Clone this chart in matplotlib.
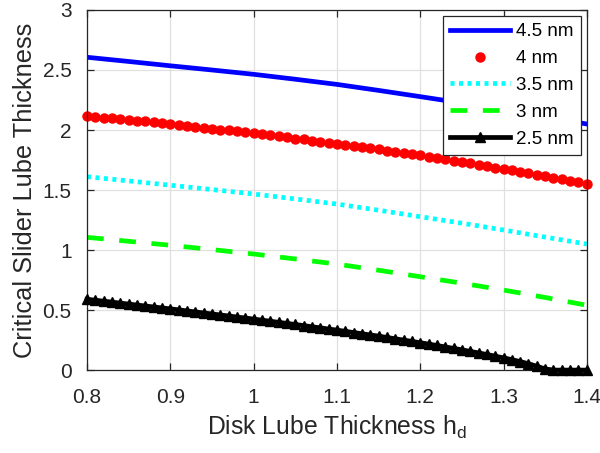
import numpy as np
import matplotlib
matplotlib.use("Agg")
import matplotlib.pyplot as plt

plt.rcParams['font.family'] = ['Liberation Sans', 'DejaVu Sans']

# disk lube thickness, coarse grid for the plain lines
x_coarse = [0.80, 0.85, 0.90, 0.95, 1.00, 1.05, 1.10, 1.15, 1.20, 1.25, 1.30, 1.35, 1.40]
h45 = [2.606, 2.571, 2.535, 2.500, 2.464, 2.423, 2.380, 2.330, 2.278, 2.225, 2.170, 2.110, 2.050]
h35 = [1.611, 1.576, 1.540, 1.504, 1.467, 1.426, 1.383, 1.332, 1.278, 1.224, 1.167, 1.108, 1.050]
h30 = [1.106, 1.073, 1.040, 1.004, 0.967, 0.926, 0.883, 0.832, 0.778, 0.724, 0.667, 0.605, 0.540]

# fine grid (step 0.01) for the marker series
x_fine = np.round(np.arange(0.80, 1.4001, 0.01), 2)
h40 = [2.117, 2.111, 2.104, 2.098, 2.091, 2.084, 2.078, 2.071, 2.064, 2.057,
       2.050, 2.043, 2.035, 2.028, 2.020, 2.012, 2.004, 1.996, 1.988, 1.980,
       1.972, 1.964, 1.955, 1.947, 1.938, 1.929, 1.921, 1.912, 1.903, 1.894,
       1.885, 1.876, 1.866, 1.857, 1.847, 1.838, 1.828, 1.818, 1.809, 1.799,
       1.789, 1.778, 1.767, 1.756, 1.745, 1.733, 1.722, 1.710, 1.699, 1.687,
       1.675, 1.663, 1.650, 1.638, 1.626, 1.613, 1.601, 1.588, 1.575, 1.563,
       1.550]
h25 = [0.590, 0.582, 0.574, 0.566, 0.558, 0.550, 0.542, 0.534, 0.526, 0.518,
       0.510, 0.502, 0.493, 0.485, 0.476, 0.468, 0.459, 0.451, 0.442, 0.434,
       0.425, 0.416, 0.407, 0.398, 0.389, 0.380, 0.371, 0.361, 0.352, 0.342,
       0.333, 0.323, 0.313, 0.303, 0.293, 0.283, 0.272, 0.261, 0.250, 0.239,
       0.228, 0.217, 0.205, 0.193, 0.181, 0.169, 0.156, 0.143, 0.130, 0.116,
       0.102, 0.087, 0.071, 0.053, 0.032, 0.010, 0.0, 0.0, 0.0, 0.0,
       0.0]

xticks = [0.8, 0.9, 1.0, 1.1, 1.2, 1.3, 1.4]
xtick_labels = ["0.8", "0.9", "1", "1.1", "1.2", "1.3", "1.4"]
yticks = [0, 0.5, 1, 1.5, 2, 2.5, 3]
ytick_labels = ["0", "0.5", "1", "1.5", "2", "2.5", "3"]

txt = (0.15, 0.15, 0.15)
lw = 3.4

fig = plt.figure(figsize=(6, 4.53), dpi=100)
ax = fig.add_axes([0.145, 0.183, 0.833, 0.795])

ax.plot(x_coarse, h45, color=(0, 0, 1), lw=lw, label="4.5 nm")
ax.plot(x_fine, h40, color=(1, 0, 0), ls="none", marker="o", ms=6.5,
        label="4 nm", clip_on=False)
ax.plot(x_coarse, h35, color=(0, 1, 1), lw=lw, ls=(0, (0.85, 0.95)), label="3.5 nm")
ax.plot(x_coarse, h30, color=(0, 1, 0), lw=lw, ls=(0, (3.55, 3.3)), label="3 nm")
ax.plot(x_fine, h25, color="k", lw=lw, marker="^", ms=7.8,
        label="2.5 nm", clip_on=False, zorder=3)

ax.set_xlim(0.8, 1.4)
ax.set_ylim(0, 3)
ax.set_xticks(xticks)
ax.set_xticklabels(xtick_labels)
ax.set_yticks(yticks)
ax.set_yticklabels(ytick_labels)
ax.grid(True, color=(0.88, 0.88, 0.88), lw=0.9)
ax.set_axisbelow(True)
ax.tick_params(direction="in", length=5, width=0.9, colors=txt,
               labelsize=15, top=True, right=True, pad=11)
ax.tick_params(axis="x", pad=13)
for s in ax.spines.values():
    s.set_color(txt)
    s.set_linewidth(0.9)

ax.set_xlabel(r"Disk Lube Thickness h$_{\mathregular{d}}$", fontsize=17.8,
              color=txt, labelpad=5)
ax.set_ylabel("Critical Slider Lube Thickness", fontsize=18.3, color=txt,
              labelpad=4)

leg = ax.legend(loc="upper right", fontsize=13.5, handlelength=3.2,
                labelspacing=0.52, borderaxespad=0.3, fancybox=False,
                framealpha=1, edgecolor=txt, borderpad=0.4,
                handletextpad=0.3)
leg.get_frame().set_linewidth(0.9)

fig.savefig("out.png", dpi=100)
